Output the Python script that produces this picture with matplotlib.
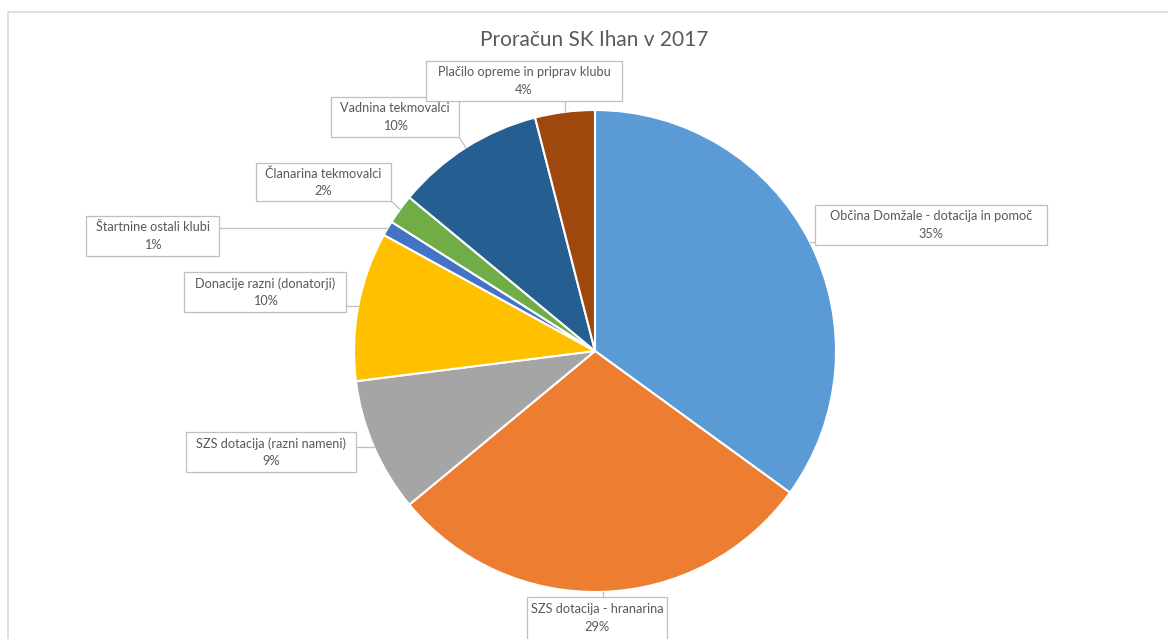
import matplotlib
matplotlib.use("Agg")
import matplotlib.pyplot as plt
from matplotlib.patches import Rectangle
import numpy as np

# ---- data ----
categories = [
    "Občina Domžale - dotacija in pomoč",
    "SZS dotacija - hranarina",
    "SZS dotacija (razni nameni)",
    "Donacije razni (donatorji)",
    "Štartnine ostali klubi",
    "Članarina tekmovalci",
    "Vadnina tekmovalci",
    "Plačilo opreme in priprav klubu",
]
shares = [35, 29, 9, 10, 1, 2, 10, 4]
title = "Proračun SK Ihan v 2017"

# ---- style ----
colors = ["#5B9BD5", "#ED7D31", "#A5A5A5", "#FFC000",
          "#4472C4", "#70AD47", "#255E91", "#9E480E"]
text_color = "#595959"
W, H = 1168, 639
cx, cy, R = 595, 351, 241  # pixel coords (y downward)
# label boxes in pixel coords: (x0, y0, x1, y1), y downward
boxes = [
    (815, 205, 1047, 245),
    (527, 597, 667, 645),
    (186, 432, 356, 472),
    (184, 272, 346, 312),
    (86, 216, 219, 256),
    (256, 163, 391, 201),
    (331, 97, 459, 137),
    (426, 61, 622, 101),
]

plt.rcParams['font.family'] = ['Lato', 'DejaVu Sans']

fig = plt.figure(figsize=(W / 100, H / 100), dpi=100)
ax = fig.add_axes([0, 0, 1, 1])
ax.set_xlim(0, W)
ax.set_ylim(0, H)
ax.set_aspect('equal')
ax.axis('off')

def fy(py):
    return H - py

# chart frame
ax.add_patch(Rectangle((8, fy(H + 20)), W + 20, (H + 20) - 12, fill=False,
                       ec="#D9D9D9", lw=1.2, zorder=0))

wedges, _ = ax.pie(shares, colors=colors, startangle=90, counterclock=False,
                   center=(cx, fy(cy)), radius=R,
                   wedgeprops=dict(edgecolor="white", linewidth=1.5))
ax.set_xlim(0, W)
ax.set_ylim(0, H)

total = float(sum(shares))
cum = 0.0
for cat, val, box in zip(categories, shares, boxes):
    mid = cum + val / 2.0
    cum += val
    ang = np.deg2rad(90 - 360 * mid / total)
    px = cx + R * np.cos(ang)
    py = cy - R * np.sin(ang)
    x0, y0, x1, y1 = box
    # nearest point on box
    qx = min(max(px, x0), x1)
    qy = min(max(py, y0), y1)
    ax.plot([qx, px], [fy(qy), fy(py)], color="#BFBFBF", lw=0.9, zorder=3)
    ax.add_patch(Rectangle((x0, fy(y1)), x1 - x0, y1 - y0, fc="white",
                           ec="#BFBFBF", lw=0.9, zorder=4))
    tcy = (y0 + y1) / 2.0 if y1 <= H else y0 + 21
    ax.text((x0 + x1) / 2.0, fy(tcy), f"{cat}\n{val}%", ha="center",
            va="center", fontsize=9.2, color=text_color, linespacing=1.55,
            zorder=5)

ax.text(594, fy(40), title, ha="center", va="center", fontsize=15,
        color=text_color)

fig.savefig("out.png", dpi=100, facecolor="white")
